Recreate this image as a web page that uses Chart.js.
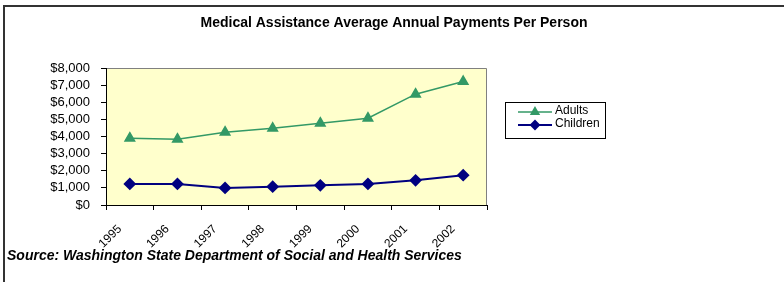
<!DOCTYPE html>
<html>
<head>
<meta charset="utf-8">
<title>Medical Assistance Average Annual Payments Per Person</title>
<script src="https://cdn.jsdelivr.net/npm/chart.js@4"></script>
<style>
    html, body { margin: 0; padding: 0; background: #ffffff; }
    #wrap { position: relative; width: 784px; height: 282px; }
    #frame { position: absolute; left: 3px; top: 5px; right: 0; bottom: 0;
             border-top: 2px solid #333333; border-left: 2px solid #333333; }
    canvas { position: absolute; left: 0; top: 0; }
</style>
</head>
<body>
<div id="wrap">
    <div id="frame"></div>
    <canvas id="graphique-medical" width="784" height="282"></canvas>
</div>
<script>
// data
const years = ["1995", "1996", "1997", "1998", "1999", "2000", "2001", "2002"];
const adults = [3900, 3840, 4250, 4480, 4780, 5070, 6470, 7210];
const children = [1230, 1230, 1000, 1070, 1150, 1230, 1440, 1740];
const yTicks = [0, 1000, 2000, 3000, 4000, 5000, 6000, 7000, 8000];

const titleText = "Medical Assistance Average Annual Payments Per Person";
const sourceText = "Source: Washington State Department of Social and Health Services";

const green = '#339966';
const navy = '#000080';

// yellow plot background + gray frame
const plotBackground = {
    id: 'plotBackground',
    beforeDraw(chart) {
        const ctx = chart.ctx;
        const a = chart.chartArea;
        ctx.save();
        ctx.fillStyle = '#FFFFCC';
        ctx.fillRect(a.left, a.top, a.right - a.left, a.bottom - a.top);
        ctx.strokeStyle = '#808080';
        ctx.lineWidth = 1;
        ctx.beginPath();
        ctx.moveTo(a.left, a.top + 0.5);
        ctx.lineTo(a.right - 0.5, a.top + 0.5);
        ctx.lineTo(a.right - 0.5, a.bottom);
        ctx.stroke();
        ctx.restore();
    }
};

// title, source line and boxed legend
const extraTexts = {
    id: 'extraTexts',
    afterDraw(chart) {
        const ctx = chart.ctx;
        ctx.save();
        ctx.fillStyle = '#000000';
        ctx.textBaseline = 'middle';

        ctx.font = 'bold 14px "Liberation Sans", Arial, sans-serif';
        ctx.textAlign = 'center';
        ctx.fillText(titleText, 394, 23);

        ctx.font = 'italic bold 14px "Liberation Sans", Arial, sans-serif';
        ctx.textAlign = 'left';
        ctx.fillText(sourceText, 7, 256);

        // legend box
        ctx.strokeStyle = '#000000';
        ctx.lineWidth = 1;
        ctx.strokeRect(505.5, 102.5, 100, 36);
        ctx.font = '12px "Liberation Sans", Arial, sans-serif';
        chart.data.datasets.forEach((ds, i) => {
            const y = 112 + i * 13;
            ctx.strokeStyle = ds.borderColor;
            ctx.lineWidth = ds.borderWidth;
            ctx.beginPath();
            ctx.moveTo(518, y);
            ctx.lineTo(552, y);
            ctx.stroke();
            ctx.fillStyle = ds.pointBackgroundColor;
            ctx.strokeStyle = ds.pointBorderColor;
            Chart.helpers.drawPoint(ctx, {
                pointStyle: ds.pointStyle,
                radius: ds.pointRadius - 1,
                borderWidth: 1,
                rotation: 0
            }, 535, y);
            ctx.fillStyle = '#000000';
            ctx.fillText(ds.label, 555, y - 1);
        });
        ctx.restore();
    }
};

const canvas = document.getElementById("graphique-medical");
const ctx = canvas.getContext("2d");

new Chart(ctx, {
    type: 'line',
    data: {
        labels: years,
        datasets: [{
            label: 'Adults',
            data: adults,
            borderColor: green,
            borderWidth: 1.5,
            pointStyle: 'triangle',
            pointRadius: 5.5,
            pointBackgroundColor: green,
            pointBorderColor: green,
            tension: 0
        }, {
            label: 'Children',
            data: children,
            borderColor: navy,
            borderWidth: 2,
            pointStyle: 'rectRot',
            pointRadius: 5,
            pointBackgroundColor: navy,
            pointBorderColor: navy,
            tension: 0
        }]
    },
    options: {
        responsive: false,
        animation: false,
        layout: {
            padding: { left: 0, top: 68, right: 297, bottom: 27 }
        },
        plugins: {
            legend: { display: false },
            title: { display: false },
            tooltip: { enabled: false }
        },
        scales: {
            x: {
                offset: true,
                afterFit: (scale) => { scale.height = 50; },
                grid: {
                    offset: true,
                    drawOnChartArea: false,
                    tickLength: 5,
                    color: '#000000'
                },
                border: { color: '#000000', width: 1 },
                ticks: {
                    maxRotation: 45,
                    minRotation: 45,
                    padding: 12,
                    labelOffset: -10,
                    autoSkip: false,
                    color: '#000000',
                    font: { family: '"Liberation Sans", Arial, sans-serif', size: 12 }
                }
            },
            y: {
                min: 0,
                max: 8000,
                afterFit: (scale) => { scale.width = 106; },
                afterBuildTicks: (scale) => { scale.ticks = yTicks.map(v => ({ value: v })); },
                grid: {
                    drawOnChartArea: false,
                    tickLength: 5,
                    color: '#000000'
                },
                border: { color: '#000000', width: 1 },
                ticks: {
                    padding: 11,
                    autoSkip: false,
                    color: '#000000',
                    font: { family: '"Liberation Sans", Arial, sans-serif', size: 13 },
                    callback: (v) => '$' + v.toLocaleString('en-US')
                }
            }
        }
    },
    plugins: [plotBackground, extraTexts]
});
</script>
</body>
</html>
